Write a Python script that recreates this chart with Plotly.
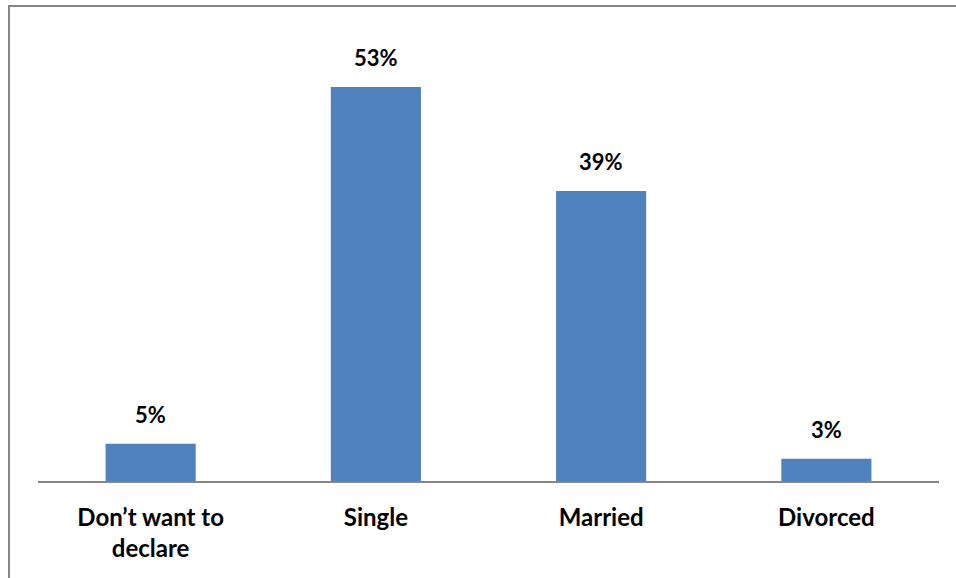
import plotly.graph_objects as go

categories = ["Don’t want to<br>declare", "Single", "Married", "Divorced"]
values = [5, 53, 39, 3]
labels = ["5%", "53%", "39%", "3%"]

FONT = "Lato"
L, R, T, B = 38, 17, 35, 97
W, H = 956, 578
pw = W - L - R
ph = H - T - B

fig = go.Figure()
fig.add_trace(go.Bar(
    x=categories, y=values,
    marker=dict(color="#4F81BD", line=dict(width=0)),
    width=0.4,
    hoverinfo="skip",
))
for c, v, t in zip(categories, values, labels):
    fig.add_annotation(x=c, y=v, text=f"<b>{t}</b>", showarrow=False,
                       yanchor="bottom", yshift=14,
                       font=dict(family=FONT, size=22, color="black"))

# outer chart border (partly off-canvas like the reference)
fig.add_shape(type="rect", xref="paper", yref="paper",
              x0=(9 - L) / pw, x1=(W + 20 - L) / pw,
              y0=-(H + 20 - T - ph) / ph, y1=(H - 6 - B) / ph,
              line=dict(color="#868686", width=2), layer="below")

fig.update_layout(
    width=W, height=H,
    margin=dict(l=L, r=R, t=T, b=B),
    paper_bgcolor="white", plot_bgcolor="white",
    showlegend=False,
    bargap=0.6,
    xaxis=dict(showline=True, linecolor="#868686", linewidth=2,
               ticks="", showgrid=False, ticklabelstandoff=14,
               tickfont=dict(family=FONT, size=24, color="black"),
               tickvals=categories,
               ticktext=[f"<b>{c}</b>" for c in categories]),
    yaxis=dict(range=[0, 60], visible=False, showgrid=False, zeroline=False),
)
fig.write_html("out.html")
